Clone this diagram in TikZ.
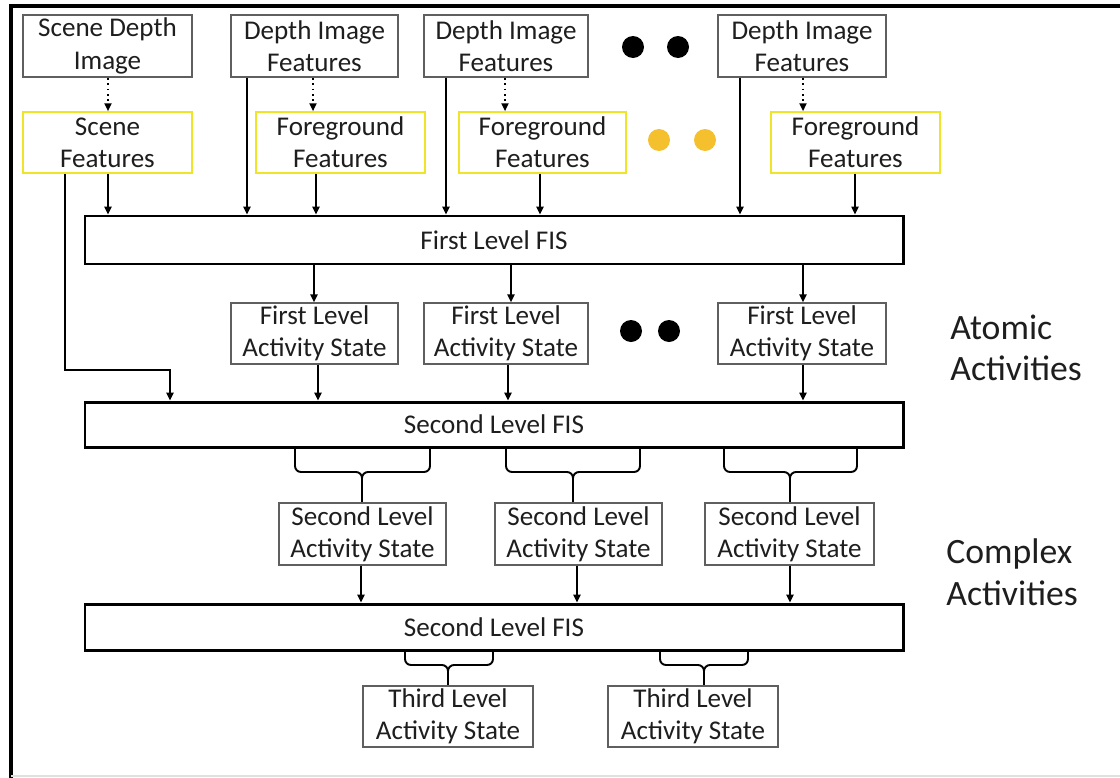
\documentclass[tikz,border=0pt]{standalone}
\usepackage{fontspec}
\setmainfont{Carlito}
\usetikzlibrary{arrows.meta}
\definecolor{ybox}{RGB}{240,228,40}
\definecolor{ydot}{RGB}{245,192,46}
\definecolor{gbord}{RGB}{95,95,95}
\definecolor{txt}{RGB}{30,30,30}
\newcommand\bracketdraw[6]{%
  % #1 x-left, #2 x-right, #3 x-mid, #4 y-top, #5 y-horizontal, #6 target node
  \draw[con] (#1,#4) -- (#1,#5-6) to[out=-90,in=180] (#1+6,#5) -- (#3-6,#5)
     to[out=0,in=90] (#3,#5+6) to[out=90,in=180] (#3+6,#5) -- (#2-6,#5)
     to[out=0,in=-90] (#2,#5-6) -- (#2,#4);
  \draw[con] (#3,#5+6) -- (#6.north -| #3,0);
}
\begin{document}
\begin{tikzpicture}[x=0.02cm,y=-0.02cm,
  bx/.style 2 args={minimum width=#1*0.02cm, minimum height=#2*0.02cm, inner sep=0pt},
  gbox/.style={draw=gbord, line width=0.75pt, fill=white, align=center, text=txt,
     font=\fontsize{15.4pt}{18.4pt}\selectfont},
  yboxs/.style={gbox, draw=ybox, line width=0.9pt},
  fis/.style={draw=black, line width=1.7pt, fill=white, align=center, text=txt,
     font=\fontsize{15.4pt}{18.4pt}\selectfont},
  lab/.style={align=left, anchor=west, text=txt, inner sep=0pt,
     font=\fontsize{20.3pt}{23.7pt}\selectfont},
  con/.style={line width=1.1pt, black},
  arr/.style={con, -{Triangle[length=4.5pt,width=4pt]}},
  dotarr/.style={arr, dotted}
]
\useasboundingbox (0,0) rectangle (1120,778);
% outer frame
\draw[line width=2.8pt] (11,778) -- (11,6) -- (1120,6);
\draw[black!12, line width=0.6pt] (11,776) -- (1120,776);

% top row
\node[gbox, bx={169}{62}] (sdi) at (107.5,46) {Scene Depth\\Image};
\node[gbox, bx={167}{62}] (dif1) at (314.5,46) {Depth Image\\Features};
\node[gbox, bx={164}{62}] (dif2) at (506,46) {Depth Image\\Features};
\node[gbox, bx={168}{62}] (dif3) at (802,46) {Depth Image\\Features};
\fill[black] (633,47) circle[radius=0.22cm];
\fill[black] (678,47) circle[radius=0.22cm];

% feature row
\node[yboxs, bx={169}{61}] (sf) at (107.5,142.5) {Scene\\Features};
\node[yboxs, bx={169}{61}] (ff1) at (340.5,142.5) {Foreground\\Features};
\node[yboxs, bx={167}{61}] (ff2) at (542.5,142.5) {Foreground\\Features};
\node[yboxs, bx={169}{61}] (ff3) at (855.5,142.5) {Foreground\\Features};
\fill[ydot] (659,140) circle[radius=0.22cm];
\fill[ydot] (705,140) circle[radius=0.22cm];

% FIS 1
\node[fis, bx={818}{48}] (fis1) at (494,240) {First Level FIS};

% first level activity states
\node[gbox, bx={167}{61}] (flas1) at (314.5,333.5) {First Level\\Activity State};
\node[gbox, bx={164}{61}] (flas2) at (506,333.5) {First Level\\Activity State};
\node[gbox, bx={168}{61}] (flas3) at (802,333.5) {First Level\\Activity State};
\fill[black] (631,331) circle[radius=0.22cm];
\fill[black] (669,331) circle[radius=0.22cm];

% FIS 2
\node[fis, bx={818}{45}] (fis2) at (494,424.5) {Second Level FIS};

% second level activity states
\node[gbox, bx={167}{62}] (slas1) at (362.5,534) {Second Level\\Activity State};
\node[gbox, bx={167}{62}] (slas2) at (578.5,534) {Second Level\\Activity State};
\node[gbox, bx={169}{62}] (slas3) at (789.5,534) {Second Level\\Activity State};

% FIS 3
\node[fis, bx={818}{46}] (fis3) at (494,627) {Second Level FIS};

% third level activity states
\node[gbox, bx={170}{61}] (tlas1) at (448,716.5) {Third Level\\Activity State};
\node[gbox, bx={170}{61}] (tlas2) at (693,716.5) {Third Level\\Activity State};

% side labels
\node[lab] (atomic) at (950,348) {Atomic\\Activities};
\node[lab] (complex) at (946,572) {Complex\\Activities};

% dotted arrows
\draw[dotarr] (sdi.south -| 108,0) -- (sf.north -| 108,0);
\draw[dotarr] (dif1.south -| 313,0) -- (ff1.north -| 313,0);
\draw[dotarr] (dif2.south -| 505,0) -- (ff2.north -| 505,0);
\draw[dotarr] (dif3.south -| 803,0) -- (ff3.north -| 803,0);

% into FIS 1
\draw[arr] (sf.south -| 108,0) -- (fis1.north -| 108,0);
\draw[arr] (dif1.south -| 247,0) -- (fis1.north -| 247,0);
\draw[arr] (ff1.south -| 316,0) -- (fis1.north -| 316,0);
\draw[arr] (dif2.south -| 446,0) -- (fis1.north -| 446,0);
\draw[arr] (ff2.south -| 540,0) -- (fis1.north -| 540,0);
\draw[arr] (dif3.south -| 740,0) -- (fis1.north -| 740,0);
\draw[arr] (ff3.south -| 855,0) -- (fis1.north -| 855,0);

% FIS 1 -> first level states
\draw[arr] (fis1.south -| 314,0) -- (flas1.north -| 314,0);
\draw[arr] (fis1.south -| 511,0) -- (flas2.north -| 511,0);
\draw[arr] (fis1.south -| 803,0) -- (flas3.north -| 803,0);

% scene features bypass
\draw[arr] (sf.south -| 65,0) -- (65,370) -- (170,370) -- (fis2.north -| 170,0);

% first level states -> FIS 2
\draw[arr] (flas1.south -| 318,0) -- (fis2.north -| 318,0);
\draw[arr] (flas2.south -| 508,0) -- (fis2.north -| 508,0);
\draw[arr] (flas3.south -| 803,0) -- (fis2.north -| 803,0);

% brackets FIS 2 -> second level states
\bracketdraw{295}{430}{362}{447}{472}{slas1}
\bracketdraw{506}{640}{573}{447}{472}{slas2}
\bracketdraw{724}{857}{790}{447}{472}{slas3}

% second level states -> FIS 3
\draw[arr] (slas1.south -| 361,0) -- (fis3.north -| 361,0);
\draw[arr] (slas2.south -| 577,0) -- (fis3.north -| 577,0);
\draw[arr] (slas3.south -| 790,0) -- (fis3.north -| 790,0);

% brackets FIS 3 -> third level states
\bracketdraw{405}{493}{448}{650}{665}{tlas1}
\bracketdraw{660}{748}{704}{650}{665}{tlas2}
\end{tikzpicture}
\end{document}
